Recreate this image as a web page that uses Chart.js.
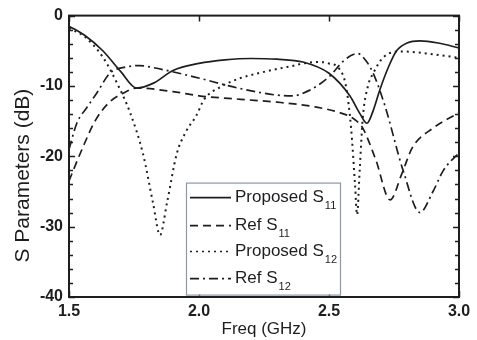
<!DOCTYPE html>
<html>
<head>
<meta charset="utf-8">
<script src="https://cdn.jsdelivr.net/npm/chart.js@4.4.1/dist/chart.umd.min.js"></script>
<style>
  html, body { margin: 0; padding: 0; background: #fff; }
  #wrap { width: 477px; height: 340px; position: relative; }
</style>
</head>
<body>
<div id="wrap"><canvas id="sChart"></canvas></div>
<script>
/* ===== data (freq in GHz, level in dB) ===== */

const propS11Freq = [1.5, 1.56, 1.63, 1.7, 1.76, 1.825, 1.9, 2.0, 2.1, 2.2, 2.3, 2.4, 2.5, 2.58, 2.62, 2.646, 2.67, 2.696, 2.73, 2.76, 2.8, 2.85, 2.92, 3.0];
const propS11 =     [-1.5, -2.8, -5, -8, -10.3, -9.6, -7.8, -6.8, -6.3, -6.1, -6.2, -6.6, -8.2, -11.4, -14, -15.3, -13.5, -10.5, -7.2, -5, -3.9, -3.6, -3.9, -4.6];

const refS11Freq = [1.5, 1.55, 1.6, 1.65, 1.71, 1.76, 1.9, 2.0, 2.16, 2.3, 2.45, 2.55, 2.6, 2.63, 2.68, 2.735, 2.78, 2.82, 2.9, 3.0];
const refS11 =     [-23.5, -19, -15, -12.5, -11, -10.3, -10.8, -11.4, -11.9, -12.3, -13, -13.9, -14.8, -16, -20.5, -26.2, -22.5, -18.8, -16, -13.8];

const propS12Freq = [1.5, 1.56, 1.63, 1.69, 1.735, 1.785, 1.823, 1.85, 1.877, 1.914, 1.95, 1.99, 2.02, 2.08, 2.15, 2.25, 2.34, 2.45, 2.5, 2.54, 2.565, 2.585, 2.6, 2.608, 2.618, 2.63, 2.65, 2.67, 2.71, 2.78, 2.9, 3.0];
const propS12 =     [-1.8, -3, -5.9, -10, -13.8, -19.7, -26.6, -31.2, -26.6, -19.7, -16.5, -14.2, -11.9, -10.2, -9, -8, -7.3, -6.6, -6.8, -7.6, -10, -16, -24, -28.3, -22, -14.5, -10, -8.2, -5.9, -5.1, -5.5, -6];

const refS12Freq = [1.5, 1.53, 1.57, 1.607, 1.657, 1.72, 1.77, 1.81, 1.98, 2.15, 2.3, 2.36, 2.42, 2.5, 2.56, 2.61, 2.64, 2.67, 2.715, 2.785, 2.85, 2.9, 2.94, 3.0];
const refS12 =     [-19, -15.3, -13, -11, -8.2, -7.3, -7.1, -7.3, -8.7, -10.3, -11.3, -11.4, -10.7, -8.7, -6.3, -5.4, -6.3, -8.2, -12.8, -22, -28, -25, -22, -19.5];

const seriesNames = ["Proposed S|11", "Ref S|11", "Proposed S|12", "Ref S|12"];

const xTicks = [1.5, 2.0, 2.5, 3.0];
const yTicks = [0, -10, -20, -30, -40];

/* ===== styles ===== */

const INK = "#1e1e1e";
const FONT = "'Liberation Sans', Arial, sans-serif";
const dashes = [[], [8, 5], [2, 4], [9, 4, 2, 4]];

const toPoints = (xs, ys) => xs.map((x, i) => ({ x: x, y: ys[i] }));

const datasets = [
    toPoints(propS11Freq, propS11),
    toPoints(refS11Freq, refS11),
    toPoints(propS12Freq, propS12),
    toPoints(refS12Freq, refS12)
].map((pts, i) => ({
    label: seriesNames[i],
    data: pts,
    borderColor: INK,
    borderWidth: i === 2 ? 2 : 1.7,
    borderDash: dashes[i],
    pointRadius: 0,
    fill: false,
    cubicInterpolationMode: "monotone"
}));

/* ===== frame, inward ticks, y title and legend ===== */

const framePlugin = {
    id: "frame",
    afterDraw(chart) {
        const ctx = chart.ctx;
        const a = chart.chartArea;
        const xs = chart.scales.x;
        const ys = chart.scales.y;

        ctx.save();
        ctx.strokeStyle = INK;
        ctx.lineWidth = 2;
        ctx.setLineDash([]);
        ctx.strokeRect(a.left, a.top, a.right - a.left, a.bottom - a.top);

        ctx.lineWidth = 1.5;
        // y ticks: major every 10, minor every 2
        for (let v = 0; v >= -40; v -= 2) {
            const py = Math.round(ys.getPixelForValue(v)) + 0.5;
            const len = (v % 10 === 0) ? 6 : 4;
            ctx.beginPath();
            ctx.moveTo(a.left, py); ctx.lineTo(a.left + len, py);
            ctx.moveTo(a.right, py); ctx.lineTo(a.right - len, py);
            ctx.stroke();
        }
        // x ticks
        xTicks.forEach(v => {
            const px = Math.round(xs.getPixelForValue(v)) + 0.5;
            ctx.beginPath();
            ctx.moveTo(px, a.bottom); ctx.lineTo(px, a.bottom - 6);
            ctx.moveTo(px, a.top); ctx.lineTo(px, a.top + 6);
            ctx.stroke();
        });

        // y axis title (sits a bit below the axis centre in the original)
        ctx.save();
        ctx.translate(23, a.top + 160);
        ctx.rotate(-Math.PI / 2);
        ctx.fillStyle = INK;
        ctx.textAlign = "center";
        ctx.textBaseline = "middle";
        ctx.font = "21px " + FONT;
        ctx.fillText("S Parameters (dB)", 0, 0);
        ctx.restore();

        // legend box
        const lx = a.left + 117, ly = a.top + 167, lw = 154, lh = 112;
        ctx.fillStyle = "#fff";
        ctx.fillRect(lx, ly, lw, lh);
        ctx.strokeStyle = "#8c9aa3";
        ctx.lineWidth = 1.2;
        ctx.strokeRect(lx + 0.5, ly + 0.5, lw, lh);

        const rows = [15, 43, 69, 96];
        seriesNames.forEach((name, i) => {
            const y = ly + rows[i];
            ctx.strokeStyle = INK;
            ctx.lineWidth = i === 2 ? 1.5 : 1.7;
            ctx.setLineDash(dashes[i]);
            ctx.beginPath();
            ctx.moveTo(lx + 4, y); ctx.lineTo(lx + 45, y);
            ctx.stroke();
            ctx.setLineDash([]);

            const [main, sub] = name.split("|");
            ctx.fillStyle = INK;
            ctx.textBaseline = "middle";
            ctx.textAlign = "left";
            ctx.font = "17px " + FONT;
            ctx.fillText(main, lx + 49, y);
            const w = ctx.measureText(main).width;
            ctx.font = "11px " + FONT;
            ctx.fillText(sub, lx + 50 + w, y + 8);
        });
        ctx.restore();
    }
};

/* ===== chart ===== */

const sCtx = document.getElementById("sChart");

new Chart(sCtx, {
    type: "line",
    data: { datasets: datasets },
    options: {
        responsive: true,
        maintainAspectRatio: false,
        animation: false,
        layout: { padding: { top: 7, right: 18, left: 0, bottom: 0 } },
        plugins: {
            legend: { display: false },
            tooltip: { enabled: false }
        },
        scales: {
            x: {
                type: "linear",
                min: 1.5,
                max: 3.0,
                afterFit: s => { s.height = 43; },
                afterBuildTicks: s => { s.ticks = xTicks.map(v => ({ value: v })); },
                grid: { display: false, drawTicks: false },
                border: { display: false },
                ticks: {
                    padding: 5,
                    color: INK,
                    font: { family: FONT, size: 16, weight: "bold" },
                    callback: v => v.toFixed(1)
                },
                title: {
                    display: true,
                    text: "Freq (GHz)",
                    color: INK,
                    padding: { top: 0, bottom: 0 },
                    font: { family: FONT, size: 17 }
                }
            },
            y: {
                min: -40,
                max: 0,
                afterFit: s => { s.width = 69; },
                afterBuildTicks: s => { s.ticks = yTicks.map(v => ({ value: v })); },
                grid: { display: false, drawTicks: false },
                border: { display: false },
                ticks: {
                    padding: 6,
                    color: INK,
                    font: { family: FONT, size: 16, weight: "bold" }
                },
                title: { display: false }
            }
        }
    },
    plugins: [framePlugin]
});
</script>
</body>
</html>
